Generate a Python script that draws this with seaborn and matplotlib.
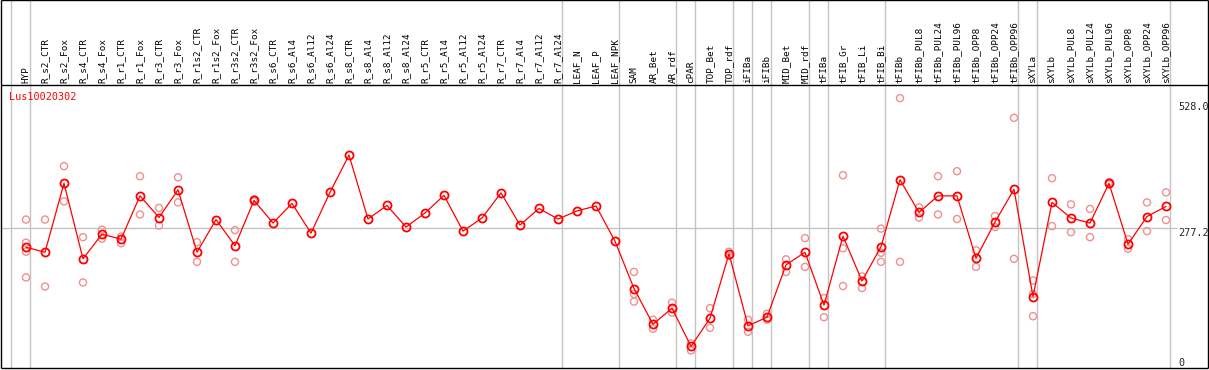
import numpy as np
import pandas as pd
import seaborn as sns
import matplotlib
matplotlib.use("Agg")
import matplotlib.pyplot as plt

title = "Lus10020302"

labels = [
    "HYP", "R_s2_CTR", "R_s2_Fox", "R_s4_CTR", "R_s4_Fox", "R_r1_CTR", "R_r1_Fox",
    "R_r3_CTR", "R_r3_Fox", "R_r1s2_CTR", "R_r1s2_Fox", "R_r3s2_CTR", "R_r3s2_Fox",
    "R_s6_CTR", "R_s6_Al4", "R_s6_Al12", "R_s6_Al24", "R_s8_CTR", "R_s8_Al4",
    "R_s8_Al12", "R_s8_Al24", "R_r5_CTR", "R_r5_Al4", "R_r5_Al12", "R_r5_Al24",
    "R_r7_CTR", "R_r7_Al4", "R_r7_Al12", "R_r7_Al24", "LEAF_N", "LEAF_P", "LEAF_NPK",
    "SAM", "AR_Bet", "AR_rdf", "cPAR", "TOP_Bet", "TOP_rdf", "iFIBa", "iFIBb",
    "MID_Bet", "MID_rdf", "tFIBa", "tFIB_Gr", "tFIB_Li", "tFIB_Bi", "tFIBb",
    "tFIBb_PUL8", "tFIBb_PUL24", "tFIBb_PUL96", "tFIBb_OPP8", "tFIBb_OPP24",
    "tFIBb_OPP96", "sXYLa", "sXYLb", "sXYLb_PUL8", "sXYLb_PUL24", "sXYLb_PUL96",
    "sXYLb_OPP8", "sXYLb_OPP24", "sXYLb_OPP96",
]

means = [
    239, 229, 366, 216, 265, 255, 341, 298, 353, 229, 294, 242, 332,
    287, 326, 267, 348, 422, 295, 322, 279, 307, 342, 271, 297,
    347, 283, 316, 295, 311, 321, 251,
    157, 86, 118, 42, 98, 226, 83, 100, 204, 229, 124, 261, 172, 240,
    373, 308, 341, 341, 217, 289, 354,
    141, 328, 297, 287, 366, 245, 300, 320,
]

replicates = [
    [294, 248, 230, 179], [294, 161], [400, 330], [259, 169], [274, 256],
    [260, 247], [380, 304], [317, 282], [378, 328], [249, 210], [],
    [273, 210], [334, 330],
    [], [], [], [], [], [], [], [], [], [], [], [], [], [], [], [], [], [], [],
    [190, 146, 131], [95, 77], [129, 109], [48, 34], [118, 79], [230, 222],
    [95, 71], [107, 95], [215, 190], [257, 200], [138, 100], [382, 237, 162],
    [181, 158], [276, 228, 210], [535, 210],
    [318, 298], [380, 304], [390, 295], [233, 200], [301, 279], [496, 216],
    [173, 146, 102], [376, 281], [324, 269], [315, 259], [368, 364],
    [255, 236], [328, 271], [348, 293],
]

# last column of each group (separator drawn just right of it)
group_ends = [-1, 0, 28, 31, 34, 35, 37, 38, 39, 41, 42, 45, 52, 53, 60]

y_ticks = [528.0, 277.2, 0]

df_mean = pd.DataFrame({"pos": np.arange(len(labels)), "value": means})
df_rep = pd.DataFrame(
    [(i, v) for i, vals in enumerate(replicates) for v in vals],
    columns=["pos", "value"],
)

sns.set_style("white")
plt.rcParams["font.family"] = ["DejaVu Sans Mono"]

fig = plt.figure(figsize=(12.09, 3.70), dpi=100)
ax = fig.add_axes([0, 0, 1, 1])
ax.set_xlim(-26 / 19, (1209 - 26) / 19)
ax.set_ylim(-4.77, 729.9)
ax.axis("off")

grey = "#c4c4c4"
top_v, bot_v = 729.0, -0.6
for g in group_ends:
    ax.vlines(g + 0.23, bot_v, top_v, color=grey, lw=1, zorder=1)
ax.hlines(277.2, -1.31, 60.6, color=grey, lw=1, zorder=1)

# frame + header separator
ax.hlines([top_v, 561.5, bot_v], -1.316, 62.2, color="black", lw=1.0, zorder=2)
ax.vlines([-1.316, 62.2], bot_v, top_v, color="black", lw=1.0, zorder=2)

sns.scatterplot(data=df_rep, x="pos", y="value", ax=ax, s=26, marker="o",
                facecolor="none", edgecolor="#ef9090", linewidth=1.0, zorder=3,
                legend=False)
sns.lineplot(data=df_mean, x="pos", y="value", ax=ax, color="red", lw=0.9,
             marker="o", ms=5.8, mfc="none", mec="red", mew=1.3, zorder=4,
             legend=False)

for i, lab in enumerate(labels):
    ax.text(i, 565, lab, rotation=90, ha="center", va="bottom", fontsize=6.7,
            color="black")

ax.text(-0.9, 537, title, color="red", fontsize=7.3, ha="left", va="center")

ax.text(60.63, y_ticks[0], f"{y_ticks[0]:.1f}", fontsize=7.3, ha="left", va="top")
ax.text(60.63, y_ticks[1], f"{y_ticks[1]:.1f}", fontsize=7.3, ha="left", va="top")
ax.text(60.63, y_ticks[2], "0", fontsize=7.3, ha="left", va="bottom")

fig.savefig("out.png", dpi=100)
